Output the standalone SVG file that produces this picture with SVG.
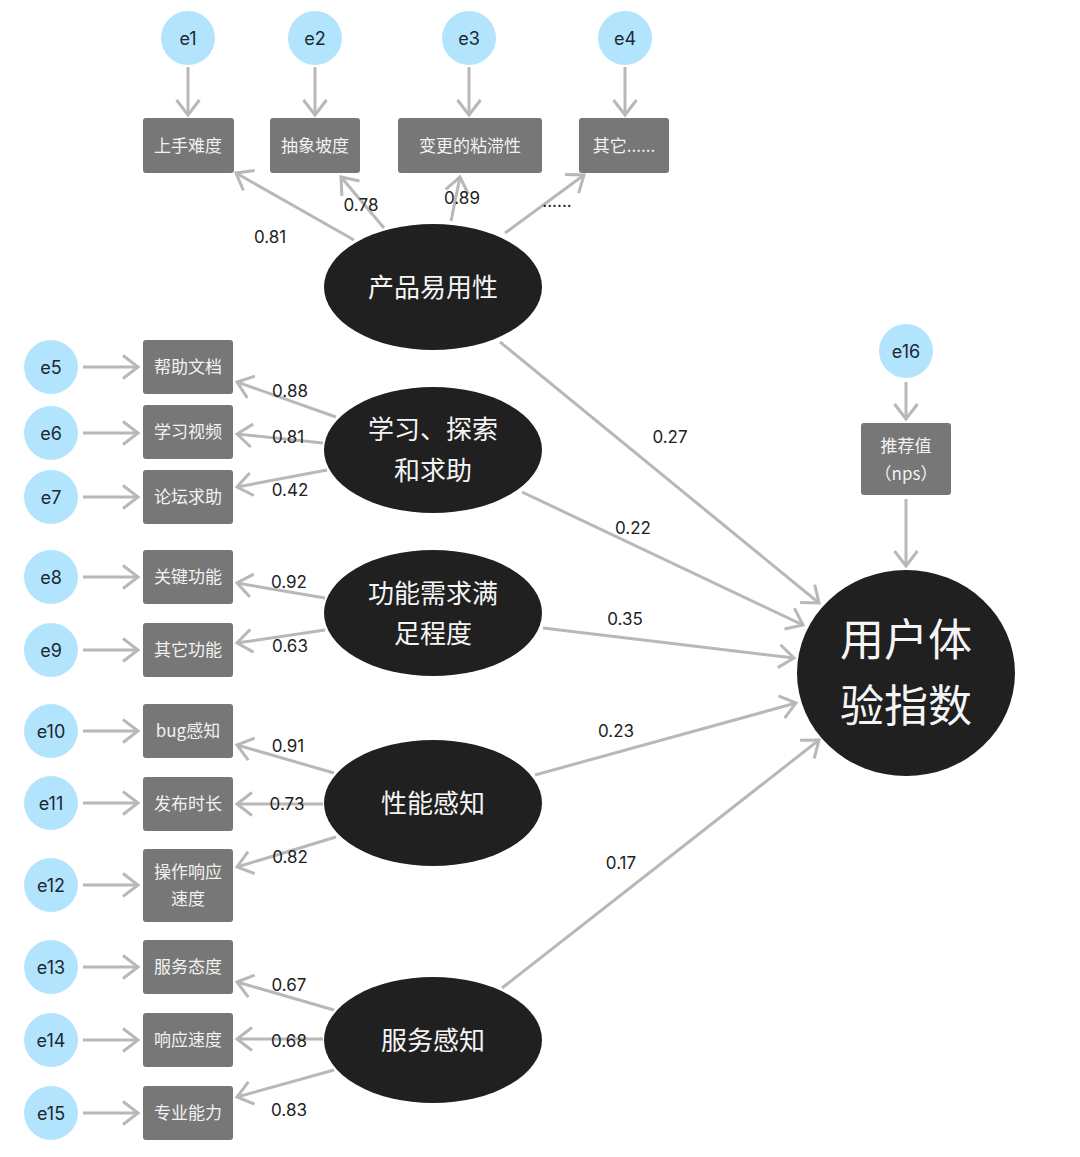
<svg xmlns="http://www.w3.org/2000/svg" width="1080" height="1157" viewBox="0 0 1080 1157">
<style>
.err circle{fill:#b2e4fd}
.err text{font-family:"Inter","Liberation Sans","Noto Sans CJK SC",sans-serif;font-size:18px;fill:#1c2833;text-anchor:middle;dominant-baseline:central}
.box rect{fill:#777777;rx:3;ry:3}
.box text{font-family:"Noto Sans CJK SC","Liberation Sans",sans-serif;font-size:17px;fill:#f2f2f2;text-anchor:middle;dominant-baseline:central}
.lat ellipse{fill:#202020}
.lat text{font-family:"Noto Sans CJK SC","Liberation Sans",sans-serif;font-size:26px;fill:#f5f5f5;text-anchor:middle;dominant-baseline:central}
.big text{font-size:44px}
.edge line{stroke:#b8b8b8;stroke-width:3;fill:none;marker-end:url(#chev)}
.lbl text{font-family:"Inter","Liberation Sans",sans-serif;font-size:17px;fill:#222;text-anchor:middle;dominant-baseline:central}
</style>
<defs>
<marker id="chev" markerUnits="userSpaceOnUse" viewBox="-17 -14 20 28" markerWidth="20" markerHeight="28" refX="0" refY="0" orient="auto">
<path d="M-15,-11.5 L0,0 L-15,11.5" fill="none" stroke="#b8b8b8" stroke-width="3"/>
</marker>
</defs>
<rect width="1080" height="1157" fill="#ffffff"/>

<g id="connectors" class="edge">
<line x1="188" y1="67" x2="188" y2="115"/>
<line x1="315" y1="67" x2="315" y2="115"/>
<line x1="469" y1="67" x2="469" y2="115"/>
<line x1="625" y1="67" x2="625" y2="115"/>
<line x1="83" y1="367" x2="138" y2="367"/>
<line x1="83" y1="433" x2="138" y2="433"/>
<line x1="83" y1="497" x2="138" y2="497"/>
<line x1="83" y1="577" x2="138" y2="577"/>
<line x1="83" y1="650" x2="138" y2="650"/>
<line x1="83" y1="731" x2="138" y2="731"/>
<line x1="83" y1="803" x2="138" y2="803"/>
<line x1="83" y1="885" x2="138" y2="885"/>
<line x1="83" y1="967" x2="138" y2="967"/>
<line x1="83" y1="1040" x2="138" y2="1040"/>
<line x1="83" y1="1113" x2="138" y2="1113"/>
<line x1="906" y1="382" x2="906" y2="419"/>
<line x1="906" y1="499" x2="906" y2="566"/>
<line x1="354" y1="240" x2="236" y2="173"/>
<line x1="384" y1="228" x2="341" y2="177"/>
<line x1="451" y1="221" x2="460" y2="177"/>
<line x1="505" y1="233" x2="584" y2="175"/>
<line x1="336" y1="417" x2="237" y2="382"/>
<line x1="323" y1="443" x2="237" y2="434"/>
<line x1="327" y1="470" x2="237" y2="487"/>
<line x1="325" y1="598" x2="237" y2="583"/>
<line x1="325" y1="630" x2="237" y2="643"/>
<line x1="334" y1="773" x2="237" y2="745"/>
<line x1="323" y1="804" x2="237" y2="804"/>
<line x1="336" y1="837" x2="237" y2="867"/>
<line x1="334" y1="1010" x2="237" y2="982"/>
<line x1="323" y1="1039" x2="237" y2="1039"/>
<line x1="334" y1="1070" x2="237" y2="1097"/>
<line x1="500" y1="342" x2="819" y2="603"/>
<line x1="522" y1="492" x2="803" y2="625"/>
<line x1="543" y1="628" x2="794" y2="658"/>
<line x1="535" y1="775" x2="796" y2="703"/>
<line x1="502" y1="988" x2="819" y2="740"/>
</g>

<g id="labels" class="lbl">
<text x="270" y="237">0.81</text>
<text x="361" y="205">0.78</text>
<text x="462" y="198">0.89</text>
<text x="557" y="201">......</text>
<text x="290" y="391">0.88</text>
<text x="288" y="437">0.81</text>
<text x="290" y="490">0.42</text>
<text x="289" y="582">0.92</text>
<text x="290" y="646">0.63</text>
<text x="288" y="746">0.91</text>
<text x="287" y="804">0.73</text>
<text x="290" y="857">0.82</text>
<text x="289" y="985">0.67</text>
<text x="289" y="1041">0.68</text>
<text x="289" y="1110">0.83</text>
<text x="670" y="437">0.27</text>
<text x="633" y="528">0.22</text>
<text x="625" y="619">0.35</text>
<text x="616" y="731">0.23</text>
<text x="621" y="863">0.17</text>
</g>

<g id="e1" class="err"><circle cx="188" cy="38" r="27"/><text x="188" y="38">e1</text></g>
<g id="e2" class="err"><circle cx="315" cy="38" r="27"/><text x="315" y="38">e2</text></g>
<g id="e3" class="err"><circle cx="469" cy="38" r="27"/><text x="469" y="38">e3</text></g>
<g id="e4" class="err"><circle cx="625" cy="38" r="27"/><text x="625" y="38">e4</text></g>
<g id="e5" class="err"><circle cx="51" cy="367" r="27"/><text x="51" y="367">e5</text></g>
<g id="e6" class="err"><circle cx="51" cy="433" r="27"/><text x="51" y="433">e6</text></g>
<g id="e7" class="err"><circle cx="51" cy="497" r="27"/><text x="51" y="497">e7</text></g>
<g id="e8" class="err"><circle cx="51" cy="577" r="27"/><text x="51" y="577">e8</text></g>
<g id="e9" class="err"><circle cx="51" cy="650" r="27"/><text x="51" y="650">e9</text></g>
<g id="e10" class="err"><circle cx="51" cy="731" r="27"/><text x="51" y="731">e10</text></g>
<g id="e11" class="err"><circle cx="51" cy="803" r="27"/><text x="51" y="803">e11</text></g>
<g id="e12" class="err"><circle cx="51" cy="885" r="27"/><text x="51" y="885">e12</text></g>
<g id="e13" class="err"><circle cx="51" cy="967" r="27"/><text x="51" y="967">e13</text></g>
<g id="e14" class="err"><circle cx="51" cy="1040" r="27"/><text x="51" y="1040">e14</text></g>
<g id="e15" class="err"><circle cx="51" cy="1113" r="27"/><text x="51" y="1113">e15</text></g>
<g id="e16" class="err"><circle cx="906" cy="351" r="27"/><text x="906" y="351">e16</text></g>

<g id="b1" class="box"><rect x="143" y="118" width="91" height="55"/><text x="188" y="144">上手难度</text></g>
<g id="b2" class="box"><rect x="270" y="118" width="90" height="55"/><text x="315" y="144">抽象坡度</text></g>
<g id="b3" class="box"><rect x="398" y="118" width="144" height="55"/><text x="470" y="144">变更的粘滞性</text></g>
<g id="b4" class="box"><rect x="579" y="118" width="90" height="55"/><text x="624" y="144">其它......</text></g>
<g id="b5" class="box"><rect x="143" y="340" width="90" height="54"/><text x="188" y="365">帮助文档</text></g>
<g id="b6" class="box"><rect x="143" y="405" width="90" height="54"/><text x="188" y="430">学习视频</text></g>
<g id="b7" class="box"><rect x="143" y="470" width="90" height="54"/><text x="188" y="495">论坛求助</text></g>
<g id="b8" class="box"><rect x="143" y="550" width="90" height="54"/><text x="188" y="575">关键功能</text></g>
<g id="b9" class="box"><rect x="143" y="623" width="90" height="54"/><text x="188" y="648">其它功能</text></g>
<g id="b10" class="box"><rect x="143" y="704" width="90" height="54"/><text x="188" y="729">bug感知</text></g>
<g id="b11" class="box"><rect x="143" y="777" width="90" height="54"/><text x="188" y="802">发布时长</text></g>
<g id="b12" class="box"><rect x="143" y="849" width="90" height="73"/><text x="188" y="870">操作响应</text><text x="188" y="897">速度</text></g>
<g id="b13" class="box"><rect x="143" y="940" width="90" height="54"/><text x="188" y="965">服务态度</text></g>
<g id="b14" class="box"><rect x="143" y="1013" width="90" height="54"/><text x="188" y="1038">响应速度</text></g>
<g id="b15" class="box"><rect x="143" y="1086" width="90" height="54"/><text x="188" y="1111">专业能力</text></g>
<g id="b16" class="box"><rect x="861" y="423" width="90" height="72"/><text x="906" y="444">推荐值</text><text x="906" y="472">（nps）</text></g>

<g id="L1" class="lat"><ellipse cx="433" cy="287" rx="109" ry="63"/><text x="433" y="285">产品易用性</text></g>
<g id="L2" class="lat"><ellipse cx="433" cy="450" rx="109" ry="63"/><text x="433" y="427">学习、探索</text><text x="433" y="468">和求助</text></g>
<g id="L3" class="lat"><ellipse cx="433" cy="613" rx="109" ry="63"/><text x="433" y="591">功能需求满</text><text x="433" y="631">足程度</text></g>
<g id="L4" class="lat"><ellipse cx="433" cy="803" rx="109" ry="63"/><text x="433" y="801">性能感知</text></g>
<g id="L5" class="lat"><ellipse cx="433" cy="1040" rx="109" ry="63"/><text x="433" y="1038">服务感知</text></g>
<g id="Y" class="lat big"><ellipse cx="906" cy="673" rx="109" ry="103"/><text x="906" y="637">用户体</text><text x="906" y="703">验指数</text></g>
</svg>
